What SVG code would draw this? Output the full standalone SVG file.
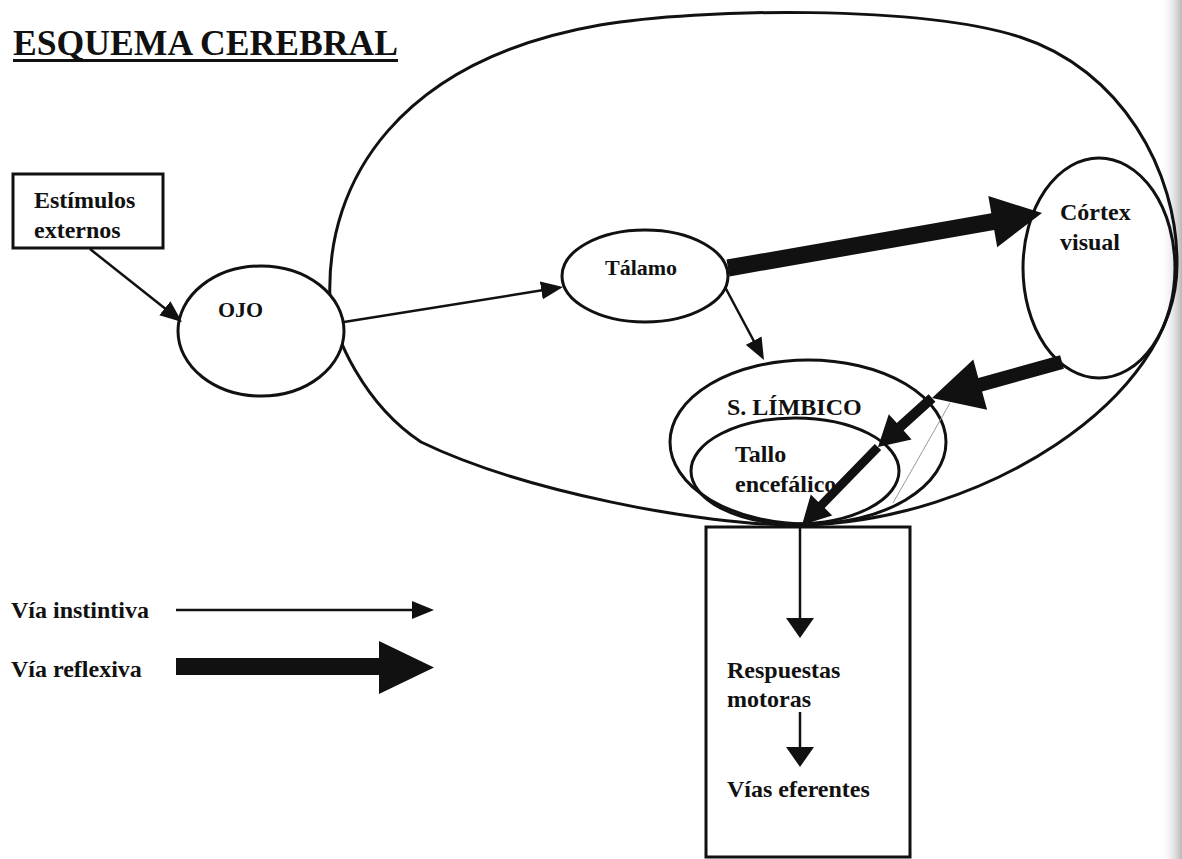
<svg xmlns="http://www.w3.org/2000/svg" width="1182" height="859" viewBox="0 0 1182 859">
<defs>
<style>
.t{font-family:"Liberation Serif","Times New Roman",serif;font-weight:bold;font-size:24px;fill:#111}
.s{fill:none;stroke:#111;stroke-width:3}
.n{fill:#fff;stroke:#111;stroke-width:3}
.c{fill:none;stroke:#111;stroke-width:2.5}
.f{fill:#111;stroke:none}
</style>
<linearGradient id="edge" x1="0" y1="0" x2="1" y2="0">
<stop offset="0" stop-color="#fff" stop-opacity="0"/>
<stop offset="1" stop-color="#b8b8b8"/>
</linearGradient>
<marker id="ah" markerUnits="userSpaceOnUse" viewBox="0 0 22 18" markerWidth="22" markerHeight="18" refX="18" refY="9" orient="auto"><path d="M0,0 L22,9 L0,18 Z" fill="#111"/></marker>
<marker id="aw" markerUnits="userSpaceOnUse" viewBox="0 0 20 28" markerWidth="20" markerHeight="28" refX="16" refY="14" orient="auto"><path d="M0,0 L20,14 L0,28 Z" fill="#111"/></marker>
</defs>
<rect x="0" y="0" width="1182" height="859" fill="#fff"/>
<rect x="1160" y="0" width="22" height="859" fill="url(#edge)"/>

<g id="title">
<text class="t" x="13" y="55" style="font-size:35px" textLength="385" lengthAdjust="spacingAndGlyphs">ESQUEMA CEREBRAL</text>
<line x1="13" y1="60.5" x2="398" y2="60.5" stroke="#111" stroke-width="3"/>
</g>

<g id="cerebro">
<path class="s" d="M802,525 C700,526 520,490 421,442 C365,405 332,335 330,300 C325,180 400,60 600,25 C700,8 920,5 1020,37 C1120,69 1178,170 1177,265 C1177,400 980,522 802,525 Z"/>
</g>

<g id="estimulos">
<rect class="n" x="13" y="174" width="150" height="74"/>
<text class="t" x="34" y="208">Estímulos</text>
<text class="t" x="34" y="238">externos</text>
</g>

<g id="ojo">
<ellipse class="n" cx="261" cy="331" rx="83" ry="65"/>
<text class="t" x="218" y="317" style="font-size:22px">OJO</text>
</g>

<g id="talamo">
<ellipse class="n" cx="645" cy="276" rx="83" ry="46"/>
<text class="t" x="605" y="275" style="font-size:22px">Tálamo</text>
</g>

<g id="cortex">
<ellipse class="s" cx="1099" cy="268" rx="76" ry="110"/>
<text class="t" x="1060" y="220">Córtex</text>
<text class="t" x="1060" y="250">visual</text>
</g>

<g id="limbico">
<ellipse class="s" cx="808" cy="442" rx="138" ry="82"/>
<text class="t" x="727" y="415">S. LÍMBICO</text>
</g>

<g id="tallo">
<ellipse class="s" cx="795" cy="471" rx="104" ry="53"/>
<text class="t" x="735" y="462">Tallo</text>
<text class="t" x="735" y="492">encefálico</text>
</g>

<g id="respuestas">
<rect class="s" x="706" y="527" width="204" height="330"/>
<text class="t" x="727" y="678">Respuestas</text>
<text class="t" x="727" y="707">motoras</text>
<text class="t" x="727" y="797">Vías eferentes</text>
</g>

<g id="leyenda">
<text class="t" x="11" y="618">Vía instintiva</text>
<text class="t" x="11" y="677">Vía reflexiva</text>
</g>

<g id="connectors">
<line class="c" x1="90" y1="249" x2="178.9" y2="319.5" marker-end="url(#ah)"/>
<line class="c" x1="344" y1="322" x2="559.1" y2="287.6" marker-end="url(#ah)"/>
<line class="c" x1="725" y1="287" x2="762.1" y2="356.5" marker-end="url(#ah)"/>
<polygon class="f" points="729.5,276.4 994.2,230.0 997.2,247.2 1042,213 988.3,196.0 991.3,213.3 726.5,259.6"/>
<polygon class="f" points="1060.1,355.3 978.3,378.0 973.3,359.6 932,398 987.1,409.8 982.1,391.4 1063.9,368.7"/>
<polygon class="f" points="928.6,394.3 896.8,423.1 888.8,414.2 878,447 911.6,439.4 903.6,430.5 935.4,401.7"/>
<polygon class="f" points="874.8,443.9 818.3,501.9 810.8,494.5 802,525 832.2,515.4 824.7,508.1 881.2,450.1"/>
<line x1="950" y1="403" x2="893" y2="503" stroke="#999" stroke-width="1"/>
<line class="c" x1="800" y1="527" x2="800" y2="634" marker-end="url(#aw)"/>
<line class="c" x1="800" y1="712" x2="800" y2="763" marker-end="url(#aw)"/>
<line class="c" x1="176" y1="610" x2="430" y2="610" marker-end="url(#ah)"/>
<polygon class="f" points="176,658 379,658 379,641 434,667.5 379,694 379,675 176,675"/>
</g>
</svg>
